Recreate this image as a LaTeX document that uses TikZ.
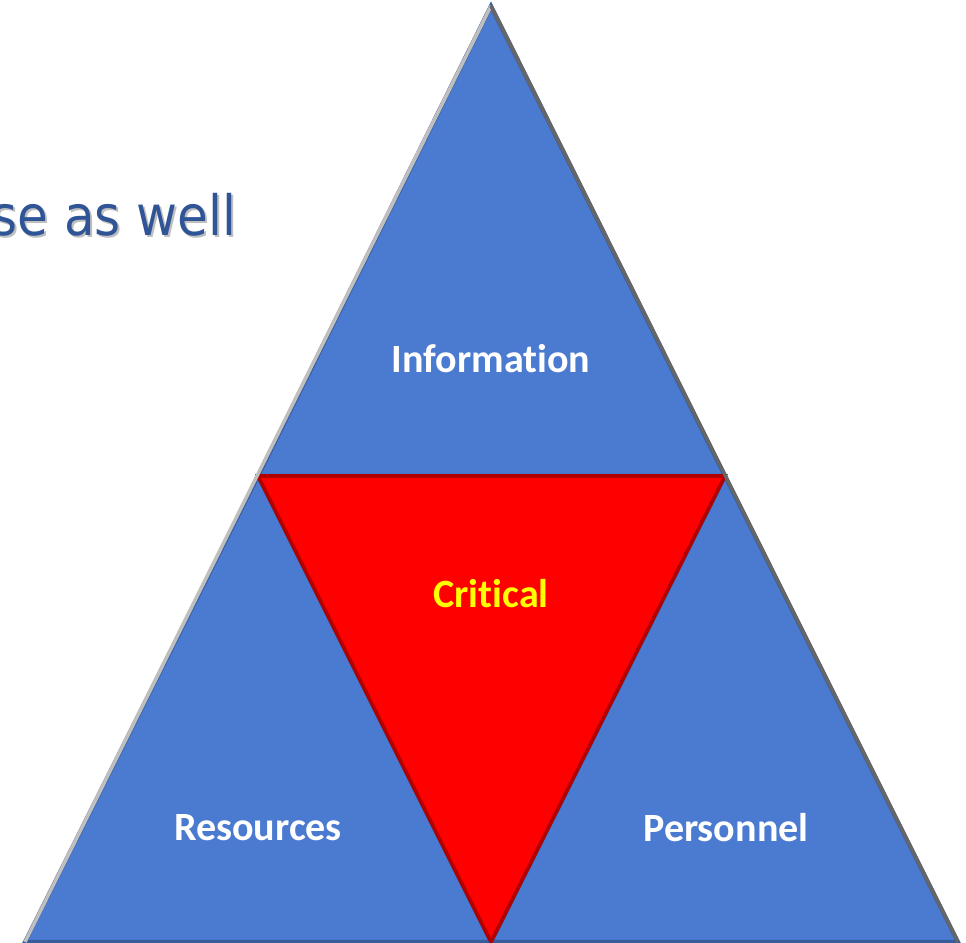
\documentclass[tikz,border=0pt]{standalone}
\usepackage{fontspec}
\setmainfont[Ligatures=NoCommon]{Carlito}
\newfontfamily\titlefont{DejaVu Sans Condensed}
\definecolor{tblue}{HTML}{4A7BD0}
\definecolor{tred}{HTML}{FF0000}
\definecolor{ttext}{HTML}{2F5597}
\definecolor{tyellow}{HTML}{FFFF00}
\begin{document}
\begin{tikzpicture}[x=0.01cm, y=-0.01cm,
  part/.style = {fill=tblue, draw=tblue!75!black, line width=1.2pt, line join=miter},
  core/.style = {fill=tred, draw=tred!70!black, line width=1pt},
  lbl/.style = {text=white, font=\fontsize{11.4}{14}\selectfont\bfseries},
  head/.style = {anchor=base east, inner sep=0pt, font=\titlefont\fontsize{15.8}{18}\selectfont}]
\useasboundingbox (0,0) rectangle (966,943);
% corners of the big triangle
\coordinate (top) at (491,6);
\coordinate (bl) at (25,942);
\coordinate (br) at (958,942);
\coordinate (ml) at (258,476);
\coordinate (mr) at (725,476);
\coordinate (mb) at (491,942);
% heading cut at the left edge
\node[head, text=black!25] at (239,238) {se as well};
\node[head, text=ttext] (title) at (237,236) {se as well};
% four parts
\draw[part] (top) -- (ml) -- (mr) -- cycle;
\draw[part] (ml) -- (bl) -- (mb) -- cycle;
\draw[part] (mr) -- (mb) -- (br) -- cycle;
\draw[core] (ml) -- (mr) -- (mb) -- cycle;
\draw[black!25, line width=1pt] (top) -- (bl);
\draw[black!60, line width=1pt] (top) -- (br);
\node[lbl] (info) at (491,359) {Information};
\node[lbl, text=tyellow] (crit) at (491,594) {Critical};
\node[lbl] (res) at (258,828) {Resources};
\node[lbl] (pers) at (726,828) {Personnel};
\end{tikzpicture}
\end{document}
